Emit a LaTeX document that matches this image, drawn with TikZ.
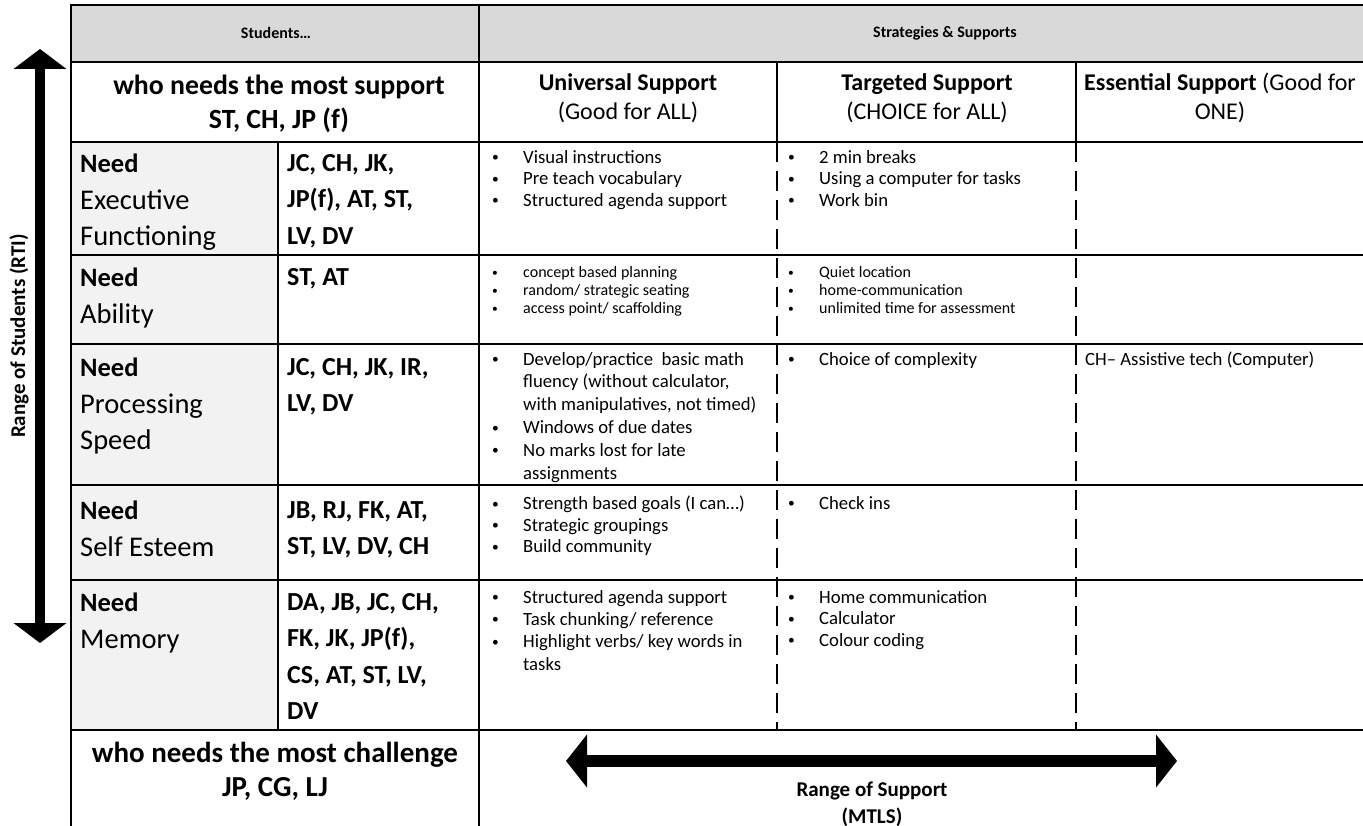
\documentclass[tikz,border=0pt]{standalone}
\usepackage{fontspec}
\setmainfont{Carlito}
\usetikzlibrary{arrows.meta}
\definecolor{hdrgray}{HTML}{D9D9D9}
\definecolor{colgray}{HTML}{F2F2F2}
\newcommand{\bitem}[1]{\makebox[31pt][l]{\raisebox{0.08em}{\scalebox{0.72}{•}}}#1}
\newcommand{\contline}[1]{\hspace*{31pt}#1}
\begin{document}
\begin{tikzpicture}[x=1pt,y=-1pt,
  gridline/.style={line width=2.3pt},
  dashgrid/.style={line width=2.3pt, dash pattern=on 20pt off 9pt},
  cell/.style={inner sep=0pt, anchor=north west, align=left},
  needtxt/.style={cell, font=\fontsize{28.5}{36.5}\selectfont},
  nametxt/.style={cell, font=\bfseries\fontsize{26}{36.5}\selectfont},
  bigbold/.style={font=\bfseries\fontsize{27.8}{34}\selectfont, inner sep=0pt, align=center},
  coltxt/.style={font=\fontsize{24}{29}\selectfont, inner sep=0pt, align=center},
  hdrtxt/.style={font=\bfseries\fontsize{16}{19}\selectfont, inner sep=0pt},
  listtxt/.style={cell, font=\fontsize{18.7}{21.5}\selectfont},
  smalllist/.style={cell, font=\fontsize{16}{18}\selectfont},
  rangetxt/.style={font=\bfseries\fontsize{21}{27}\selectfont, inner sep=0pt, align=center},
  bigarrow/.style={line width=#1}
]
\useasboundingbox (0,0) rectangle (1363,826);
% fills
\fill[hdrgray] (71,5) rectangle (1363,62);
\fill[colgray] (71,142) rectangle (278,730);
% grid lines
\draw[gridline] (71,5) -- (1363,5);
\draw[gridline] (71,62) -- (1363,62);
\foreach \yy in {142,255,344,485,580,730}
  \draw[gridline] (71,\yy) -- (1363,\yy);
\draw[gridline] (71,4) -- (71,826);
\draw[gridline] (479,4) -- (479,826);
\draw[gridline] (278,142) -- (278,730);
\draw[gridline] (777,62) -- (777,142);
\draw[gridline] (1076,62) -- (1076,142);
\draw[dashgrid] (777,142) -- (777,730);
\draw[dashgrid] (1076,142) -- (1076,730);

% headers
\node[hdrtxt] (hstud) at (276,33) {Students…};
\node[hdrtxt] (hstrat) at (945,33) {Strategies \& Supports};
\node[bigbold] (most) at (279,104) {who needs the most support\\ST, CH, JP (f)};
\node[coltxt] (univ) at (628,98) {\textbf{Universal Support}\\(Good for ALL)};
\node[coltxt] (targ) at (927,98) {\textbf{Targeted Support}\\(CHOICE for ALL)};
\node[coltxt] (ess) at (1220,98) {\textbf{Essential Support} (Good for\\ONE)};

% left column
\node[needtxt] (nef) at (80,154) {\textbf{\fontsize{26.5}{36.5}\selectfont Need}\\Executive\\Functioning};
\node[nametxt] (sef) at (287,154) {JC, CH, JK,\\JP(f), AT, ST,\\LV, DV};
\node[needtxt] (nab) at (80,268) {\textbf{\fontsize{26.5}{36.5}\selectfont Need}\\Ability};
\node[nametxt] (sab) at (287,268) {ST, AT};
\node[needtxt] (nps) at (80,358) {\textbf{\fontsize{26.5}{36.5}\selectfont Need}\\Processing\\Speed};
\node[nametxt] (sps) at (287,358) {JC, CH, JK, IR,\\LV, DV};
\node[needtxt] (nse) at (80,501) {\textbf{\fontsize{26.5}{36.5}\selectfont Need}\\Self Esteem};
\node[nametxt] (sse) at (287,501) {JB, RJ, FK, AT,\\ST, LV, DV, CH};
\node[needtxt] (nme) at (80,593) {\textbf{\fontsize{26.5}{36.5}\selectfont Need}\\Memory};
\node[nametxt] (sme) at (287,593) {DA, JB, JC, CH,\\FK, JK, JP(f),\\CS, AT, ST, LV,\\DV};
\node[bigbold, font=\bfseries\fontsize{29}{34}\selectfont] (chal) at (275,771) {who needs the most challenge\\JP, CG, LJ};

% universal support column
\node[listtxt] (uef) at (492,150) {\bitem{Visual instructions}\\\bitem{Pre teach vocabulary}\\\bitem{Structured agenda support}};
\node[smalllist] (uab) at (492,266) {\bitem{concept based planning}\\\bitem{random/ strategic seating}\\\bitem{access point/ scaffolding}};
\node[listtxt, font=\fontsize{18.7}{22.8}\selectfont] (ups) at (492,352) {\bitem{Develop/practice\ \ basic math}\\\contline{fluency (without calculator,}\\\contline{with manipulatives, not timed)}\\\bitem{Windows of due dates}\\\bitem{No marks lost for late}\\\contline{assignments}};
\node[listtxt] (use) at (492,496) {\bitem{Strength based goals (I can…)}\\\bitem{Strategic groupings}\\\bitem{Build community}};
\node[listtxt, font=\fontsize{18.7}{22.3}\selectfont] (ume) at (492,590) {\bitem{Structured agenda support}\\\bitem{Task chunking/ reference}\\\bitem{Highlight verbs/ key words in}\\\contline{tasks}};

% targeted support column
\node[listtxt] (tef) at (788,150) {\bitem{2 min breaks}\\\bitem{Using a computer for tasks}\\\bitem{Work bin}};
\node[smalllist] (tab) at (788,266) {\bitem{Quiet location}\\\bitem{home-communication}\\\bitem{unlimited time for assessment}};
\node[listtxt] (tps) at (788,352) {\bitem{Choice of complexity}};
\node[listtxt] (tse) at (788,496) {\bitem{Check ins}};
\node[listtxt] (tme) at (788,590) {\bitem{Home communication}\\\bitem{Calculator}\\\bitem{Colour coding}};

% essential support column
\node[listtxt] (eps) at (1085,352) {CH– Assistive tech (Computer)};

% arrows
\coordinate (vtop) at (40,49);
\coordinate (vbot) at (40,643);
\draw[bigarrow=10pt, {Triangle[length=20pt,width=52pt]}-{Triangle[length=20pt,width=52pt]}] (vtop) -- (vbot);
\node[rotate=90, rangetxt] (rlabel) at (19,336) {Range of Students (RTI)};

\coordinate (hleft) at (566,761);
\coordinate (hright) at (1177,761);
\draw[bigarrow=12pt, {Triangle[length=21pt,width=52pt]}-{Triangle[length=21pt,width=52pt]}] (hleft) -- (hright);
\node[rangetxt] (rsup) at (872,804) {Range of Support\\(MTLS)};
\end{tikzpicture}
\end{document}
